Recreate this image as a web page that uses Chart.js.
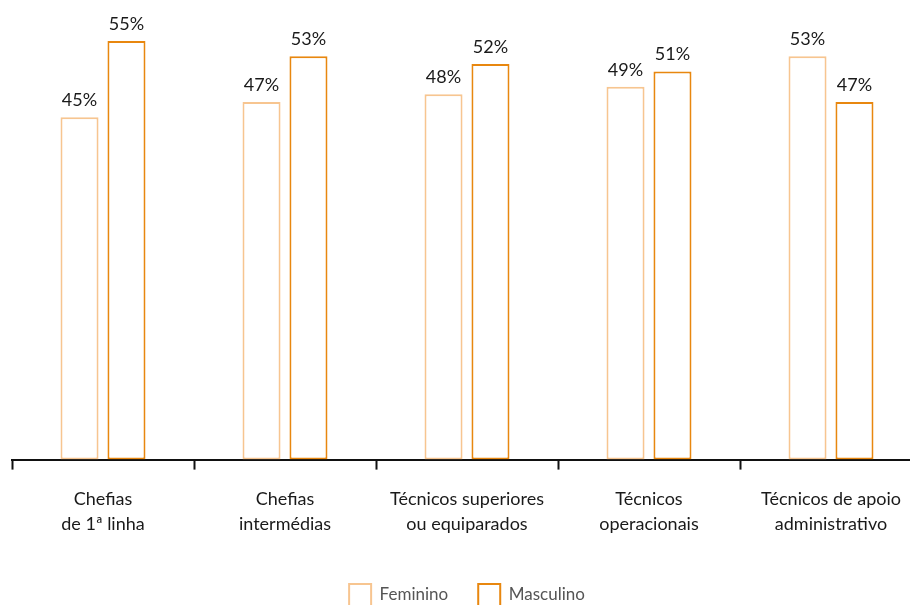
<!DOCTYPE html>
<html>
<head>
<meta charset="utf-8">
<script src="https://cdn.jsdelivr.net/npm/chart.js@4"></script>
<style>
  html, body { margin: 0; padding: 0; background: #fff; }
  .wrap { width: 910px; height: 605px; overflow: hidden; position: relative; }
  .wrap canvas { position: absolute; left: 0; top: 0; }
</style>
</head>
<body>
<div class="wrap">
  <canvas id="chart" width="934" height="618"></canvas>
</div>
<script>
const categories = [
  ['Chefias', 'de 1ª linha'],
  ['Chefias', 'intermédias'],
  ['Técnicos superiores', 'ou equiparados'],
  ['Técnicos', 'operacionais'],
  ['Técnicos de apoio', 'administrativo']
];
const feminino = [45, 47, 48, 49, 53];
const masculino = [55, 53, 52, 51, 47];

const lightOrange = '#f7c590';
const darkOrange = '#e8870f';
const fontFamily = 'Lato, "Open Sans", sans-serif';

// draws the "45%" labels above each bar
const valueLabels = {
  id: 'valueLabels',
  afterDatasetsDraw(chart) {
    const ctx = chart.ctx;
    ctx.save();
    ctx.font = '18px ' + fontFamily;
    ctx.fillStyle = '#1a1a1a';
    ctx.textAlign = 'center';
    ctx.textBaseline = 'bottom';
    chart.data.datasets.forEach((ds, i) => {
      chart.getDatasetMeta(i).data.forEach((bar, j) => {
        ctx.fillText(ds.data[j] + '%', bar.x, bar.y - 8);
      });
    });
    ctx.restore();
  }
};

const ctx = document.getElementById('chart').getContext('2d');
new Chart(ctx, {
  type: 'bar',
  data: {
    labels: categories,
    datasets: [
      {
        label: 'Feminino',
        data: feminino,
        backgroundColor: '#ffffff',
        borderColor: lightOrange,
        borderWidth: 2,
        borderSkipped: false,
        barPercentage: 0.81,
        categoryPercentage: 0.516
      },
      {
        label: 'Masculino',
        data: masculino,
        backgroundColor: '#ffffff',
        borderColor: darkOrange,
        borderWidth: 2,
        borderSkipped: false,
        barPercentage: 0.81,
        categoryPercentage: 0.516
      }
    ]
  },
  options: {
    responsive: false,
    animation: false,
    layout: { padding: { top: 3, left: 12, right: 12, bottom: 2 } },
    plugins: {
      tooltip: { enabled: false },
      legend: {
        position: 'bottom',
        labels: {
          boxWidth: 22,
          boxHeight: 22,
          padding: 30,
          color: '#555555',
          font: { family: fontFamily, size: 17 }
        }
      }
    },
    scales: {
      x: {
        grid: {
          offset: true,
          drawOnChartArea: false,
          drawTicks: true,
          tickLength: 10,
          tickColor: '#111',
          tickWidth: 2
        },
        border: { display: true, color: '#111', width: 2 },
        ticks: {
          color: '#1a1a1a',
          padding: 17,
          maxRotation: 0,
          autoSkip: false,
          font: { family: fontFamily, size: 18, lineHeight: 1.4 }
        }
      },
      y: {
        display: false,
        min: 0,
        max: 60
      }
    }
  },
  plugins: [valueLabels]
});
</script>
</body>
</html>
